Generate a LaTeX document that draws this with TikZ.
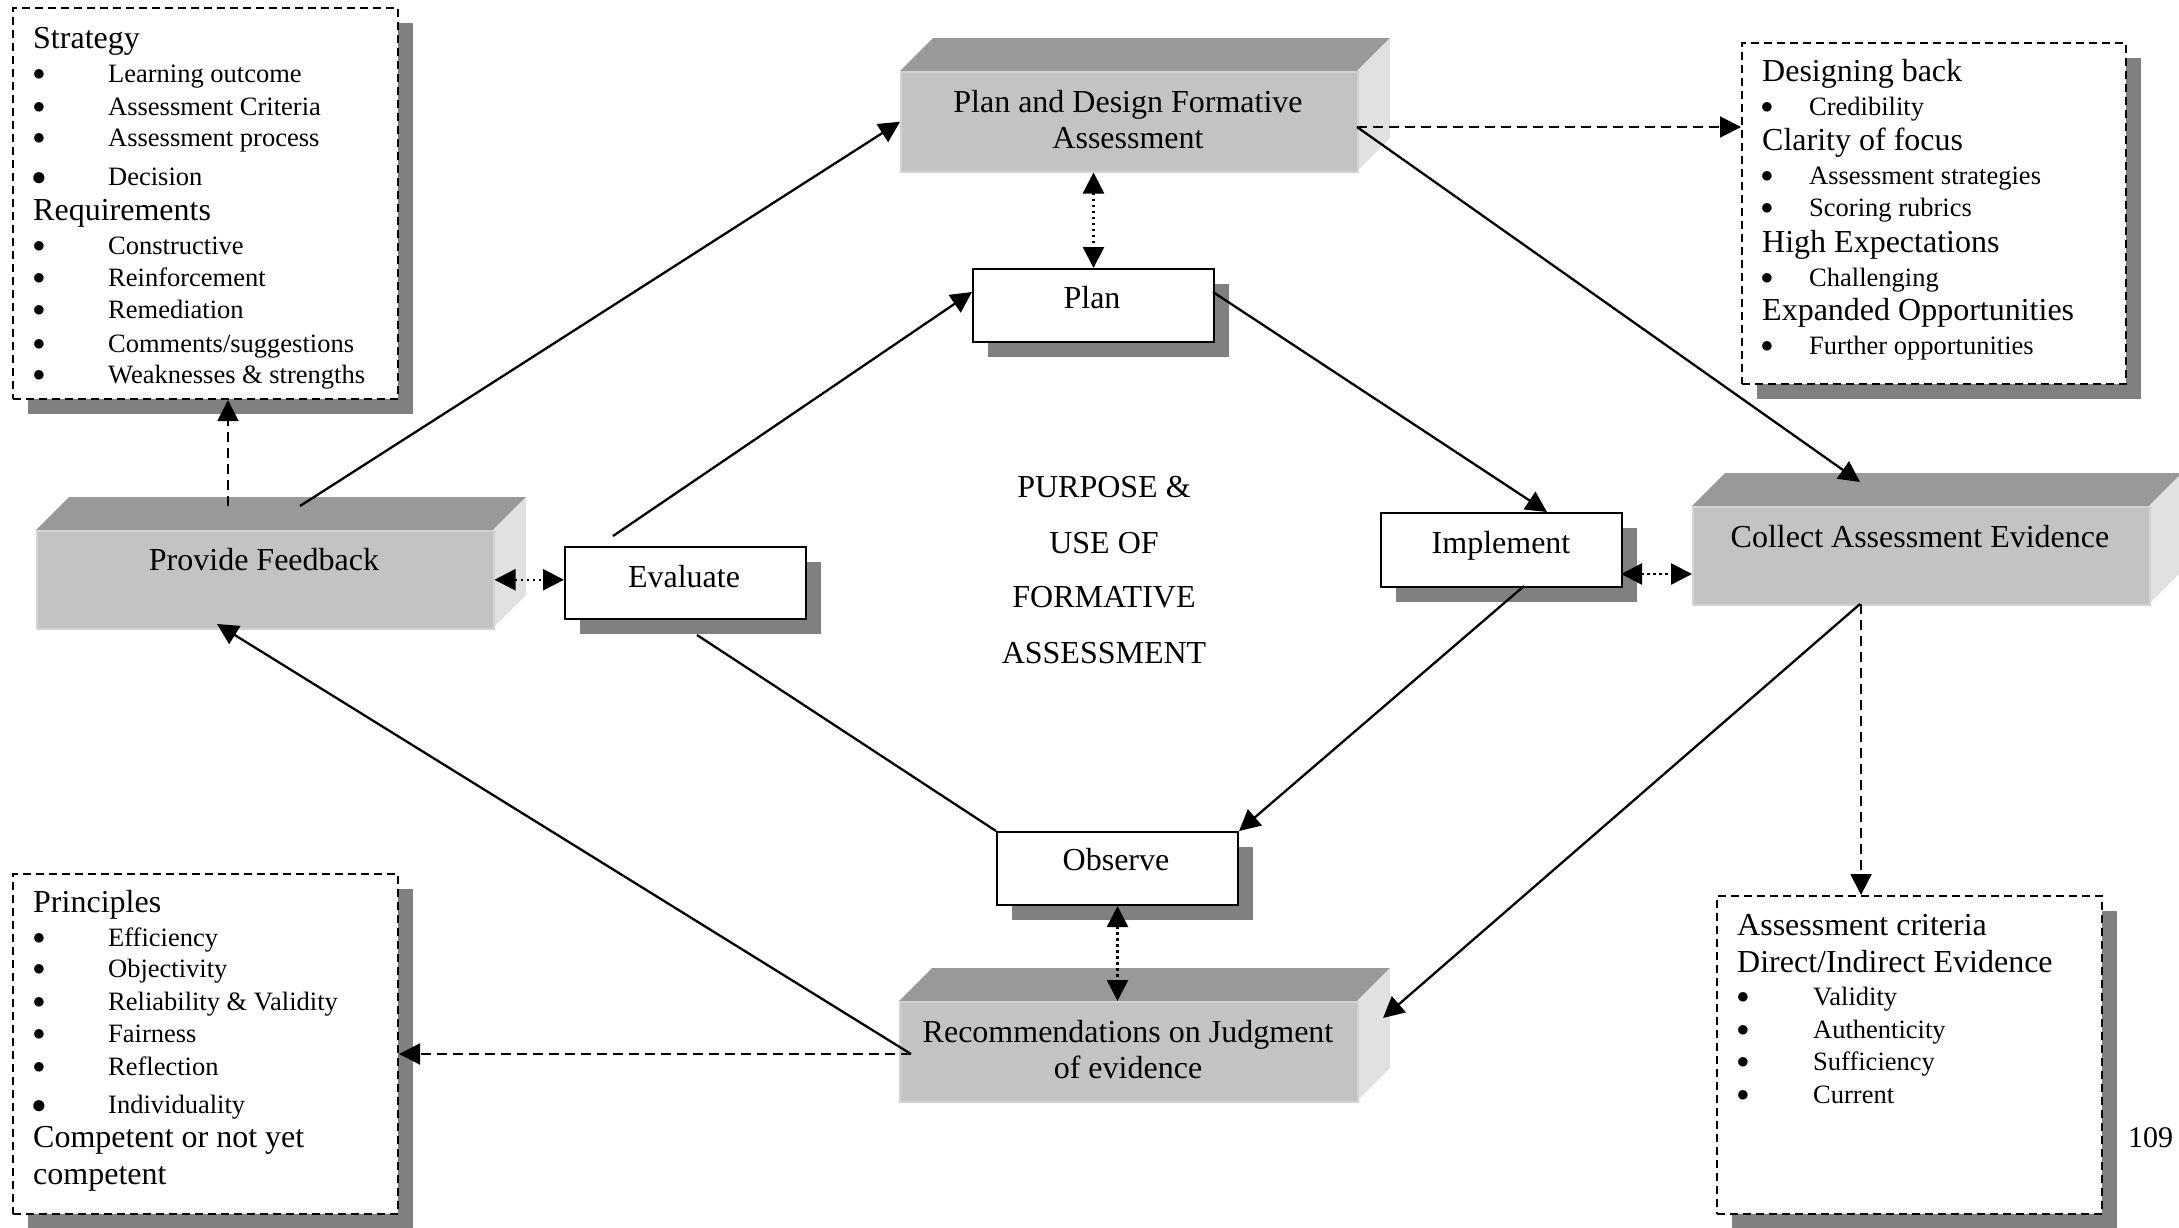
\documentclass[tikz,border=0pt]{standalone}
\usepackage{fontspec}
\setmainfont{Liberation Serif}
\usetikzlibrary{arrows.meta}
\definecolor{shd}{HTML}{808080}
\definecolor{topf}{HTML}{999999}
\definecolor{frontf}{HTML}{C3C3C3}
\definecolor{sidef}{HTML}{E1E1E1}
\definecolor{edgef}{HTML}{D2D2D2}
\tikzset{
 bigtxt/.style={font=\fontsize{32}{38}\selectfont, inner sep=0pt},
 lbl/.style={bigtxt, anchor=base},
 headtxt/.style={bigtxt, anchor=base west},
 itm/.style={font=\fontsize{26.5}{32}\selectfont, inner sep=0pt, anchor=base west},
 bul/.style={font=\fontsize{22}{26}\selectfont, inner sep=0pt, anchor=base, yshift=1.6pt},
 bigbul/.style={font=\fontsize{26}{30}\selectfont, inner sep=0pt, anchor=base},
 dbox/.style={draw, line width=2pt, dash pattern=on 8pt off 5pt, fill=white, inner sep=0pt, anchor=north west},
 pbox/.style={draw, line width=2pt, fill=white, inner sep=0pt, anchor=north west},
 ffront/.style={fill=frontf, draw=edgef, line width=1.5pt, inner sep=0pt, anchor=north west},
 conn/.style={line width=2.3pt},
 arr/.style={-{Triangle[length=21pt,width=21pt]}},
 arrboth/.style={{Triangle[length=21pt,width=21pt]}-{Triangle[length=21pt,width=21pt]}},
 dashc/.style={line width=2pt, dash pattern=on 10pt off 6pt},
 dotc/.style={line width=2.5pt, dash pattern=on 2.5pt off 3.5pt},
}
% name, x1, y1, x2, y2
\newcommand\cubebox[5]{%
 \fill[topf] (#2,#3) -- (#4,#3) -- ++(33,-33) -- ({#2+33},{#3-33}) -- cycle;
 \fill[sidef] (#4,#3) -- ++(33,-33) -- ({#4+33},{#5-33}) -- (#4,#5) -- cycle;
 \node[ffront, minimum width={#4-#2}, minimum height={#5-#3}] (#1) at (#2,#3) {};
}
\newcommand\shbox[5]{%
 \fill[shd] ({#2+16},{#3+16}) rectangle ({#4+16},{#5+16});
 \node[pbox, minimum width={#4-#2}, minimum height={#5-#3}] (#1) at (#2,#3) {};
}
\newcommand\dshbox[5]{%
 \fill[shd] ({#2+16},{#3+16}) rectangle ({#4+16},{#5+16});
 \node[dbox, minimum width={#4-#2}, minimum height={#5-#3}] (#1) at (#2,#3) {};
}
% name, bullet x, text x, baseline y, text
\newcommand\bitem[5]{%
 \node[bul] (#1b) at (#2,#4) {●};
 \node[itm] (#1) at (#3,#4) {#5};
}
\begin{document}
\begin{tikzpicture}[x=1pt,y=-1pt]
\fill[white] (0,0) rectangle (2179,1227);
\useasboundingbox (0,0) rectangle (2179,1227);

% ---------- dashed info boxes ----------
\dshbox{strat}{12}{7}{397}{398}
\dshbox{db}{1741}{42}{2125}{383}
\dshbox{pr}{12}{873}{397}{1213}
\dshbox{ac}{1716}{895}{2101}{1213}

% ---------- 3D boxes ----------
\cubebox{pd}{900}{71}{1357}{171}
\cubebox{pf}{36}{530}{493}{628}
\cubebox{cae}{1692}{506}{2149}{604}
\cubebox{rec}{899}{1001}{1357}{1101}

% ---------- shadowed boxes ----------
\shbox{plan}{972}{268}{1213}{341}
\shbox{ev}{564}{546}{805}{618}
\shbox{imp}{1380}{512}{1621}{586}
\shbox{obs}{996}{831}{1237}{904}

% ---------- box texts ----------
\node[lbl] (tpd1) at (1128,112) {Plan and Design Formative};
\node[lbl] (tpd2) at (1128,148) {Assessment};
\node[lbl] (tpf) at (264,570) {Provide Feedback};
\node[lbl] (tcae) at (1920,547) {Collect Assessment Evidence};
\node[lbl] (trec1) at (1128,1042) {Recommendations on Judgment};
\node[lbl] (trec2) at (1128,1078) {of evidence};
\node[lbl] (tplan) at (1092,308) {Plan};
\node[lbl] (tev) at (684,587) {Evaluate};
\node[lbl] (timp) at (1501,553) {Implement};
\node[lbl] (tobs) at (1116,870) {Observe};

\node[lbl] (c1) at (1104,497) {PURPOSE \&};
\node[lbl] (c2) at (1104,553) {USE OF};
\node[lbl] (c3) at (1104,607) {FORMATIVE};
\node[lbl] (c4) at (1104,663) {ASSESSMENT};

% ---------- box 1 ----------
\node[headtxt] (hs) at (33,48) {Strategy};
\bitem{s1}{39}{108}{82}{Learning outcome}
\bitem{s2}{39}{108}{115}{Assessment Criteria}
\bitem{s3}{39}{108}{146}{Assessment process}
\node[bigbul] (s4b) at (39,185) {●};
\node[itm] (s4) at (108,185) {Decision};
\node[headtxt] (hr) at (33,220) {Requirements};
\bitem{r1}{39}{108}{254}{Constructive}
\bitem{r2}{39}{108}{286}{Reinforcement}
\bitem{r3}{39}{108}{318}{Remediation}
\bitem{r4}{39}{108}{352}{Comments/suggestions}
\bitem{r5}{39}{108}{383}{Weaknesses \& strengths}

% ---------- box 2 ----------
\node[headtxt] (hd1) at (1762,81) {Designing back};
\bitem{d1}{1767}{1809}{115}{Credibility}
\node[headtxt] (hd2) at (1762,150) {Clarity of focus};
\bitem{d2}{1767}{1809}{184}{Assessment strategies}
\bitem{d3}{1767}{1809}{216}{Scoring rubrics}
\node[headtxt] (hd3) at (1762,252) {High Expectations};
\bitem{d4}{1767}{1809}{286}{Challenging}
\node[headtxt] (hd4) at (1762,320) {Expanded Opportunities};
\bitem{d5}{1767}{1809}{354}{Further opportunities}

% ---------- box 3 ----------
\node[headtxt] (hp) at (33,912) {Principles};
\bitem{p1}{39}{108}{946}{Efficiency}
\bitem{p2}{39}{108}{977}{Objectivity}
\bitem{p3}{39}{108}{1010}{Reliability \& Validity}
\bitem{p4}{39}{108}{1042}{Fairness}
\bitem{p5}{39}{108}{1075}{Reflection}
\node[bigbul] (p6b) at (39,1113) {●};
\node[itm] (p6) at (108,1113) {Individuality};
\node[headtxt] (hc1) at (33,1147) {Competent or not yet};
\node[headtxt] (hc2) at (33,1184) {competent};

% ---------- box 4 ----------
\node[headtxt] (ha1) at (1737,935) {Assessment criteria};
\node[headtxt] (ha2) at (1737,972) {Direct/Indirect Evidence};
\bitem{a1}{1743}{1813}{1005}{Validity}
\bitem{a2}{1743}{1813}{1038}{Authenticity}
\bitem{a3}{1743}{1813}{1070}{Sufficiency}
\bitem{a4}{1743}{1813}{1103}{Current}

\node[font=\fontsize{30}{36}\selectfont, inner sep=0pt, anchor=base west] (pg) at (2128,1147) {109};

% ---------- connector end points ----------
\coordinate (pfA) at (300,506);
\coordinate (pfD) at (228,506);
\coordinate (pfB) at (217,624);
\coordinate (pdR) at (1357,127);
\coordinate (caeT) at (1860,482);
\coordinate (caeB) at (1860,604);
\coordinate (caeD) at (1861,604);
\coordinate (recR) at (1383,1018);
\coordinate (recL) at (911,1054);
\coordinate (evA) at (613,536);
\coordinate (evB) at (697,635);
\coordinate (planL) at (972,292);
\coordinate (planR) at (1213,292);
\coordinate (impT) at (1547,512);
\coordinate (impB) at (1524,586);
\coordinate (impR) at (1621,574);

% ---------- outer cycle ----------
\draw[conn,arr] (pfA) -- (pd.west);
\draw[conn,arr] (pdR) -- (caeT);
\draw[conn,arr] (caeB) -- (recR);
\draw[conn,arr] (recL) -- (pfB);

% ---------- dashed links to info boxes ----------
\draw[dashc,arr] (pdR) -- (pdR -| db.west);
\draw[dashc,arr] (caeD) -- (caeD |- ac.north);
\draw[dashc,arr] (recL) -- (recL -| pr.east);
\draw[dashc,arr] (pfD) -- (pfD |- strat.south);

% ---------- inner cycle ----------
\draw[conn,arr] (evA) -- (planL);
\draw[conn,arr] (planR) -- (impT);
\draw[conn,arr] (impB) -- (obs.north east);
\draw[conn] (obs.north west) -- (evB);

% ---------- dotted double links ----------
\draw[dotc,arrboth] (pf.east) -- (pf.east -| ev.west);
\draw[dotc,arrboth] (plan.north |- pd.south) -- (plan.north);
\draw[dotc,arrboth] (impR) -- (impR -| cae.west);
\draw[dotc,arrboth] (obs.south) -- (obs.south |- rec.north);
\end{tikzpicture}
\end{document}
